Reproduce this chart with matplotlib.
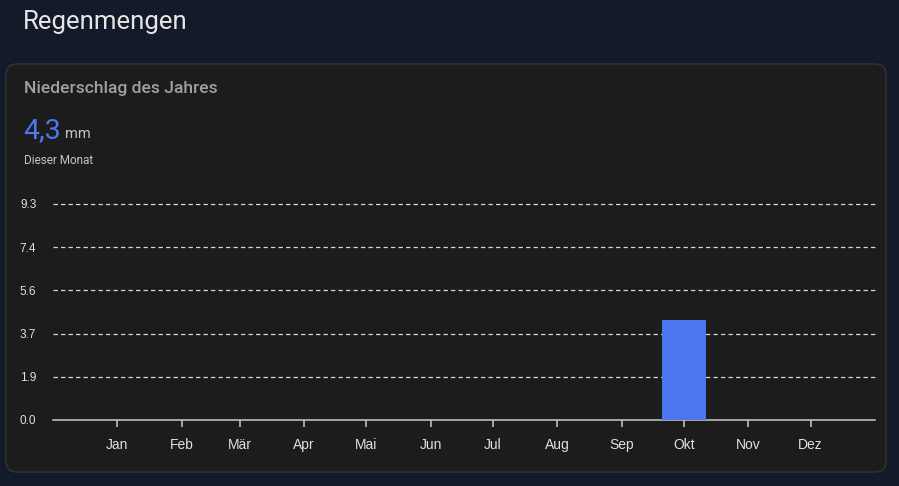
import datetime as dt
import matplotlib.pyplot as plt
import matplotlib.dates as mdates
from matplotlib.patches import FancyBboxPatch
from matplotlib.ticker import FixedLocator, FuncFormatter
import numpy as np

months = ["Jan", "Feb", "Mär", "Apr", "Mai", "Jun", "Jul", "Aug", "Sep", "Okt", "Nov", "Dez"]
rain_mm = [0, 0, 0, 0, 0, 0, 0, 0, 0, 4.3, 0, 0]
y_max = 9.3
current_value = "4,3"
year = 2023

W, H = 899, 486
fig = plt.figure(figsize=(W / 100, H / 100), dpi=100)
fig.patch.set_facecolor("#131a29")

# card background, kept behind the axes
card = FancyBboxPatch((6 / W, (H - 472) / H), 880 / W, 408 / H,
                      boxstyle="round,pad=0,rounding_size=0.012",
                      transform=fig.transFigure, facecolor="#1c1c1c",
                      edgecolor="#343434", linewidth=1, mutation_aspect=W / H,
                      zorder=-5)
fig.patches.append(card)

fig.text(23 / W, 1 - 22 / H, "Regenmengen", family="Roboto", fontsize=18.5,
         color="#e6e6e6", va="center", ha="left")
fig.text(24 / W, 1 - 89 / H, "Niederschlag des Jahres", family="Roboto",
         fontsize=12.6, fontweight="medium", color="#a0a0a0", va="center")
fig.text(23 / W, 1 - 131 / H, current_value, family="Roboto", fontsize=20.5,
         color="#4b79ee", va="center")
fig.text(65 / W, 1 - 134 / H, "mm", family="Roboto", fontsize=10.5,
         color="#c4c4c4", va="center")
fig.text(24 / W, 1 - 161 / H, "Dieser Monat", family="Roboto", fontsize=8.5,
         color="#c4c4c4", va="center")

ax = fig.add_axes([53 / W, 1 - 420 / H, (875 - 53) / W, (420 - 204) / H])
ax.set_facecolor("none")

dates = [dt.date(year, m + 1, 1) for m in range(12)]
ax.bar(dates, rain_mm, width=21, color="#4b76ee", zorder=3)

ax.set_xlim(dt.date(year - 1, 12, 1), dt.date(year + 1, 1, 1))
ax.set_ylim(0, y_max)

ax.xaxis.set_major_locator(FixedLocator(mdates.date2num(dates)))
ax.set_xticklabels(months)
yticks = np.linspace(0, y_max, 6)
ax.set_yticks(yticks)
ax.yaxis.set_major_formatter(FuncFormatter(lambda v, p: f"{v:.1f}"))

for y in yticks[1:]:
    ax.axhline(y, color="#d8d8d8", linewidth=0.9, linestyle=(0, (3.5, 2.5)),
               zorder=1, clip_on=False)

for s in ["top", "right", "left"]:
    ax.spines[s].set_visible(False)
ax.spines["bottom"].set_color("#bdbdbd")
ax.spines["bottom"].set_linewidth(1.2)

ax.tick_params(axis="x", colors="#bdbdbd", length=5, width=1.2, pad=8,
               labelcolor="#e0e0e0", labelsize=10)
ax.tick_params(axis="y", length=0, pad=12, labelcolor="#e0e0e0", labelsize=8.5)
for lab in ax.get_xticklabels() + ax.get_yticklabels():
    lab.set_family("Liberation Sans")

fig.savefig("out.png", dpi=100, facecolor=fig.get_facecolor())
